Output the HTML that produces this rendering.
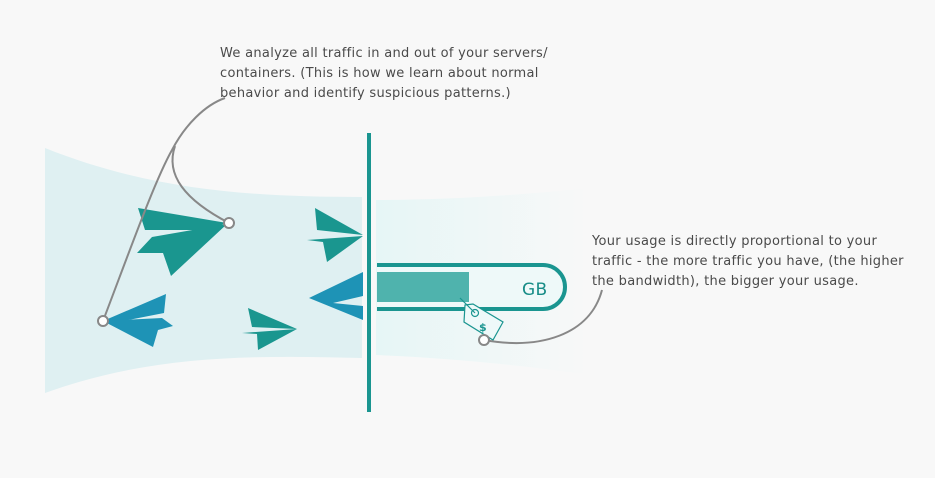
<!DOCTYPE html>
<html><head><style>
body{margin:0;background:#f8f8f8;}
svg{display:block}
text{font-family:"DejaVu Sans","Liberation Sans",sans-serif;font-size:13px;fill:#4a4a4a;letter-spacing:0.3px}
</style></head><body>
<svg width="935" height="478" viewBox="0 0 935 478">
<defs>
<linearGradient id="rg" x1="0" x2="1"><stop offset="0" stop-color="#e6f6f6"/><stop offset="1" stop-color="#f8f8f8"/></linearGradient>
</defs>
<path d="M45,148 C150,190 250,197 362,197 L362,358 C250,355 150,355 45,393 Z" fill="#dff0f2"/>
<path d="M376,200 C450,200 520,195 590,188 L590,375 C520,365 450,358 376,355 Z" fill="url(#rg)"/>
<rect x="367" y="133" width="4" height="279" fill="#1a9590"/>
<path d="M377,265 H543 A22,22 0 0 1 543,309 H377" fill="#eef9f9" stroke="#1a9590" stroke-width="4"/>
<rect x="377" y="272" width="92" height="30" fill="#4fb3ad"/>
<text x="522" y="295" style="font-size:17px;fill:#178c87">GB</text>
<g fill="none" stroke="#1a9590" stroke-width="1.2">
<path d="M465,305 L473,304 L503,322 L493,340 L464,322 Z" fill="#eef9f9"/>
<circle cx="475" cy="313" r="3.5"/>
<path d="M460,298 L475,313"/>
<text x="479" y="331" style="font-size:11px;fill:#1a9590;font-weight:bold" stroke="none">$</text>
</g>
<g fill="#1a968f">
<polygon points="138,208 145,230 208,230 227,223"/>
<polygon points="152,237 137,253 163,253 171,276 227,224"/>
<polygon points="248,308 252,327 297,329"/>
<polygon points="242,333 257,334 258,350 297,329"/>
<polygon points="315,208 317,230 363,235"/>
<polygon points="307,240 323,242 327,262 363,236"/>
</g>
<g fill="#1e93b6">
<polygon points="103,321 166,294 164,313 123,321"/>
<polygon points="162,318 173,326 158,330 153,347 103,321"/>
<polygon points="309,298 363,272 363,296 333,303 363,306 363,320"/>
</g>
<g fill="none" stroke="#888" stroke-width="2">
<path d="M103,321 C130,250 155,180 172,150 C185,125 205,105 225,98"/>
<path d="M229,223 C185,200 165,175 175,146"/>
<path d="M484,340 C540,350 590,335 602,290"/>
</g>
<g fill="#fff" stroke="#888" stroke-width="2">
<circle cx="103" cy="321" r="5"/><circle cx="229" cy="223" r="5"/><circle cx="484" cy="340" r="5"/>
</g>
<text x="220" y="57">We analyze all traffic in and out of your servers/</text>
<text x="220" y="77">containers. (This is how we learn about normal</text>
<text x="220" y="97">behavior and identify suspicious patterns.)</text>
<text x="592" y="245">Your usage is directly proportional to your</text>
<text x="592" y="265">traffic - the more traffic you have, (the higher</text>
<text x="592" y="285">the bandwidth), the bigger your usage.</text>
</svg>
</body></html>
